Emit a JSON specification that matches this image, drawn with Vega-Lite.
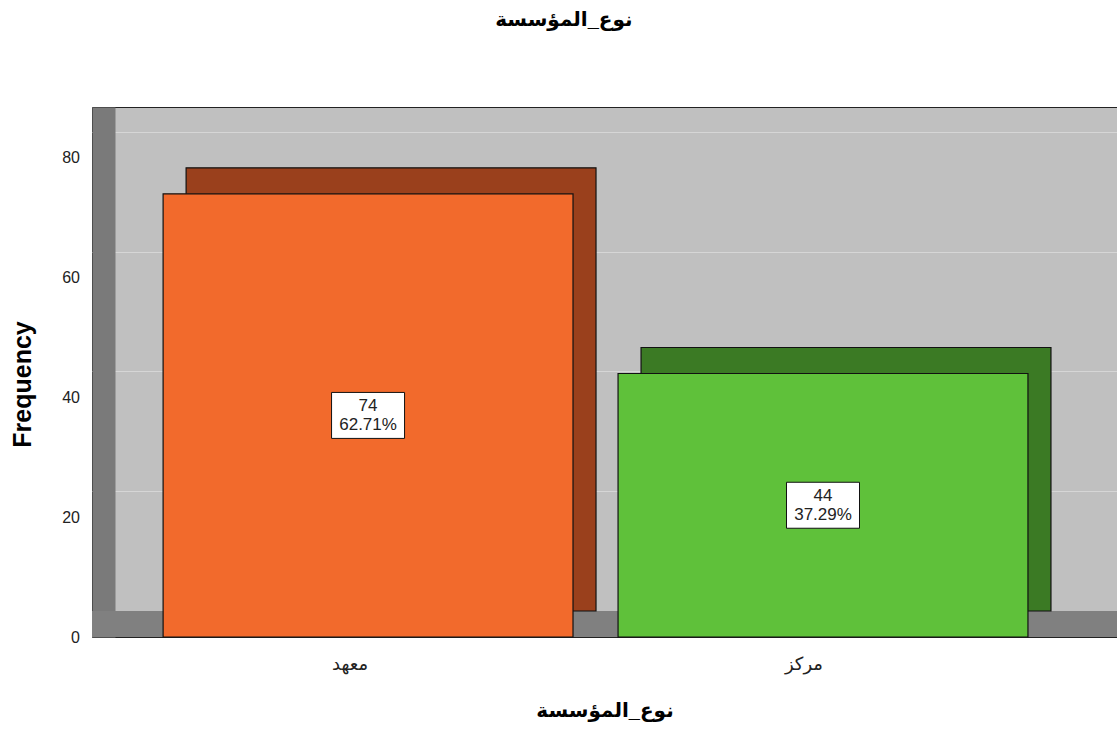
{
  "$schema": "https://vega.github.io/schema/vega-lite/v6.json",
  "width": 1025,
  "height": 530,
  "autosize": {"type": "none"},
  "padding": {"left": 92, "top": 107, "right": 0, "bottom": 97},
  "background": "white",
  "title": {
    "text": "نوع_المؤسسة",
    "fontSize": 20,
    "fontWeight": "bold",
    "font": "Liberation Sans, DejaVu Sans",
    "color": "#000",
    "frame": "bounds",
    "anchor": "middle",
    "offset": 77
  },
  "config": {
    "view": {"fill": "#C0C0C0", "stroke": "#222", "strokeWidth": 1}
  },
  "data": {
    "values": [
      {"type": "معهد", "count": 74, "label": "74\n62.71%"},
      {"type": "مركز", "count": 44, "label": "44\n37.29%"}
    ]
  },
  "transform": [{"calculate": "datum.count/2", "as": "mid"}],
  "layer": [
    {
      "mark": {"type": "rect", "fill": "#808080", "stroke": null},
      "encoding": {
        "y": {"datum": 0, "type": "quantitative"},
        "y2": {"datum": 4.34}
      }
    },
    {
      "mark": {"type": "bar", "xOffset": 23, "x2Offset": 23, "yOffset": -26, "y2Offset": -26, "stroke": "#111", "strokeWidth": 1.2},
      "encoding": {
        "x": {"field": "type", "type": "nominal", "sort": null,
              "scale": {"paddingInner": 0.099, "paddingOuter": 0.176, "align": 0.444}},
        "y": {"field": "count", "type": "quantitative", "scale": {"domain": [0, 88.5], "nice": false}},
        "color": {"field": "type", "type": "nominal", "sort": null,
                  "scale": {"domain": ["معهد", "مركز"], "range": ["#9A401C", "#3B7A24"]}, "legend": null}
      }
    },
    {
      "mark": {"type": "bar", "stroke": "#111", "strokeWidth": 1.2},
      "encoding": {
        "x": {"field": "type", "type": "nominal", "sort": null,
              "scale": {"paddingInner": 0.099, "paddingOuter": 0.176, "align": 0.444},
              "axis": {
                "title": "نوع_المؤسسة",
                "titleFont": "Liberation Sans, DejaVu Sans",
                "titleFontSize": 20,
                "titleFontWeight": "bold",
                "titleColor": "#000",
                "labelFont": "Liberation Sans, DejaVu Sans",
                "labelFontSize": 18,
                "labelColor": "#222",
                "labelAngle": 0,
                "ticks": false,
                "domain": false,
                "grid": false,
                "labelPadding": 27,
                "titlePadding": 27
              }},
        "y": {"field": "count", "type": "quantitative", "scale": {"domain": [0, 88.5], "nice": false},
              "axis": {
                "title": "Frequency",
                "titleFont": "Liberation Sans",
                "titleFontSize": 25,
                "titleFontWeight": "bold",
                "titleColor": "#000",
                "titlePadding": 26,
                "titleY": 277,
                "values": [0, 20, 40, 60, 80],
                "labelFont": "Liberation Sans",
                "labelFontSize": 16,
                "labelColor": "#222",
                "ticks": false,
                "tickSize": 0,
                "domain": true,
                "domainColor": "#7A7A7A",
                "domainWidth": 23,
                "offset": -11.5,
                "labelPadding": 24,
                "grid": true,
                "gridColor": "#D6D6D6",
                "gridWidth": 1,
                "tickOffset": -26,
                "labelOffset": 26
              }},
        "color": {"field": "type", "type": "nominal", "sort": null,
                  "scale": {"domain": ["معهد", "مركز"], "range": ["#F26A2C", "#5FC13A"]}, "legend": null}
      }
    },
    {
      "mark": {"type": "point", "shape": "M-1,-0.63H1V0.63H-1Z", "size": 5329, "filled": true, "fill": "white", "stroke": "#111", "strokeWidth": 1, "opacity": 1},
      "encoding": {
        "x": {"field": "type", "type": "nominal", "sort": null},
        "y": {"field": "mid", "type": "quantitative"}
      }
    },
    {
      "mark": {"type": "text", "lineBreak": "\n", "font": "Liberation Sans", "fontSize": 17, "lineHeight": 19, "dy": -9, "color": "#222", "baseline": "middle", "align": "center"},
      "encoding": {
        "x": {"field": "type", "type": "nominal", "sort": null},
        "y": {"field": "mid", "type": "quantitative"},
        "text": {"field": "label"}
      }
    }
  ],
  "resolve": {"scale": {"color": "independent"}}
}
